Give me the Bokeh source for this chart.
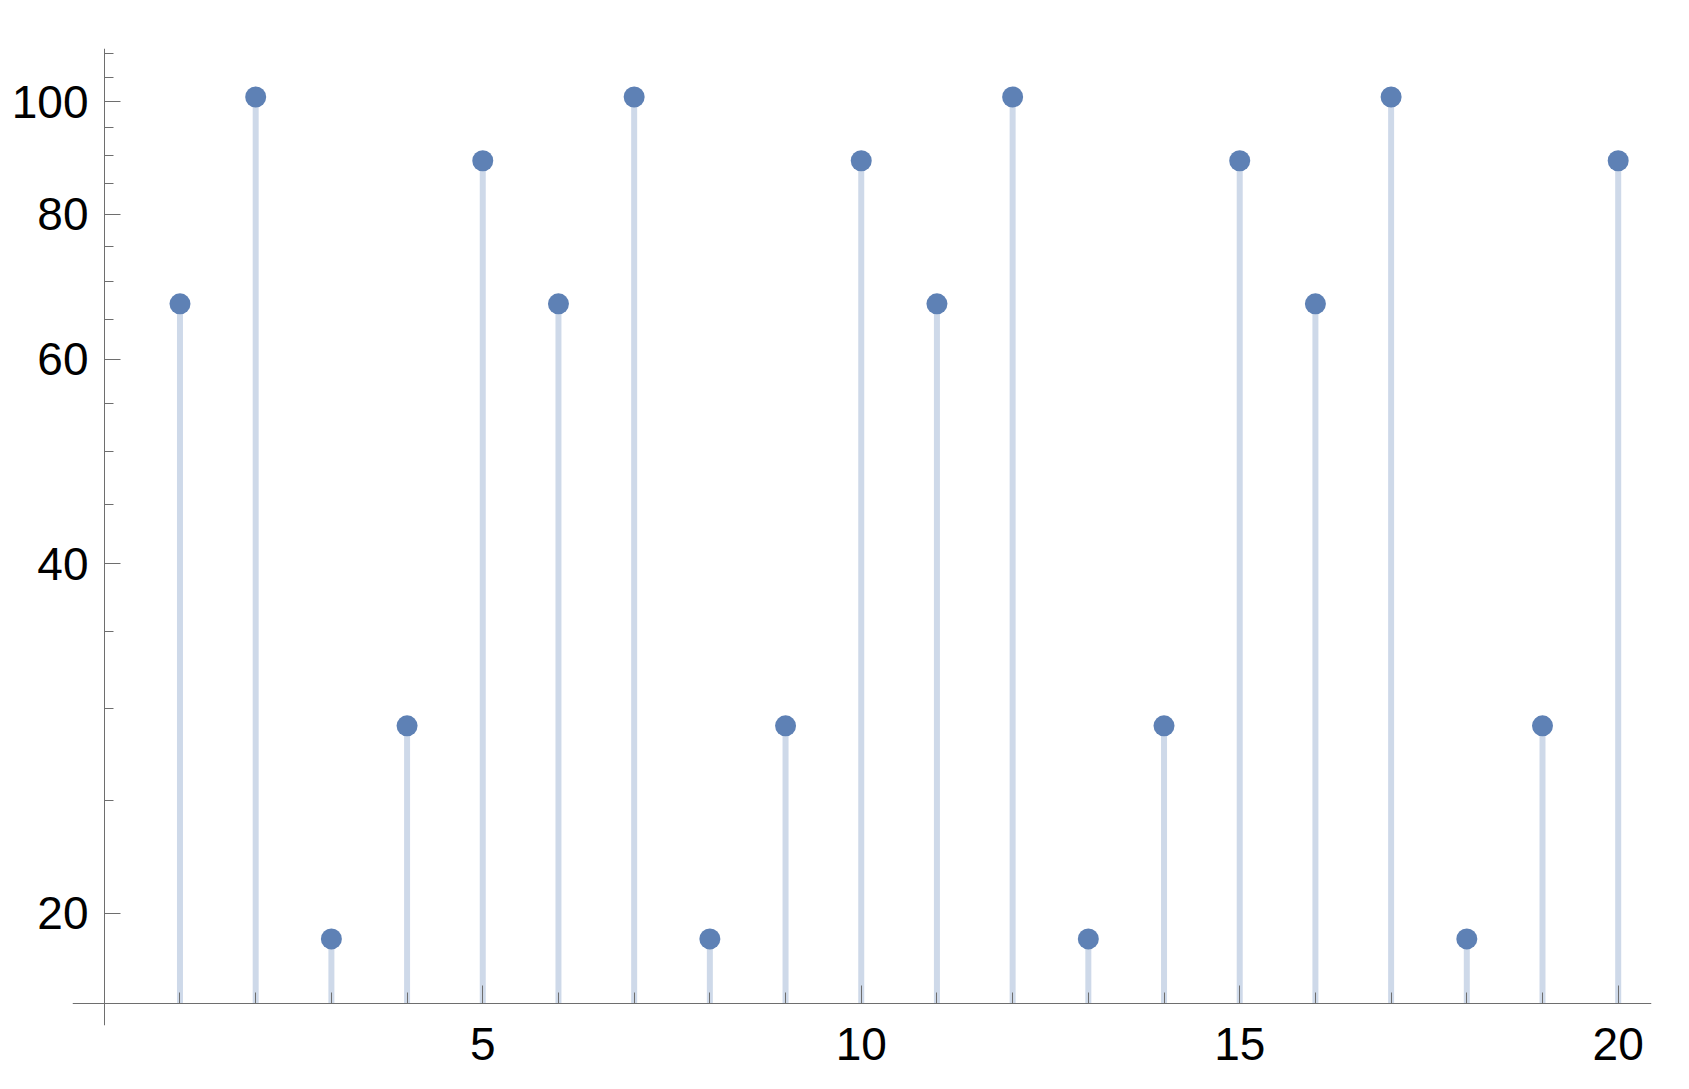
from bokeh.plotting import figure
from bokeh.models import (FixedTicker, PrintfTickFormatter, Range1d, ColumnDataSource,
                          LinearAxis, LogAxis, CustomJSTickFormatter)
from bokeh.embed import file_html
from bokeh.resources import INLINE

# Data
xs = list(range(1, 21))
values = [67, 101, 19, 29, 89,
          67, 101, 19, 29, 89,
          67, 101, 19, 29, 89,
          67, 101, 19, 29, 89]
x_major = [5, 10, 15, 20]
x_minor = list(range(1, 21))
y_major = [20, 40, 60, 80, 100]
y_minor = [25, 30, 35, 45, 50, 55, 65, 70, 75, 85, 90, 95, 105, 110]
BASE = 16.7  # axis origin on the log y scale

COLOR = "#5E81B5"
AXIS_COLOR = "#6E6E6E"
FONT = "Liberation Sans"

p = figure(width=1673, height=1073, y_axis_type="log",
           x_range=Range1d(-0.42, 20.44), y_range=Range1d(16.0, 111.2),
           output_backend="svg", toolbar_location=None,
           min_border_left=72, min_border_right=22,
           min_border_top=48, min_border_bottom=48)
p.outline_line_color = None
p.grid.visible = False
p.background_fill_color = "white"
p.border_fill_color = "white"

src = ColumnDataSource(dict(x=xs, y=values, base=[BASE] * len(xs)))
p.segment(x0="x", y0="base", x1="x", y1="y", source=src,
          line_color=COLOR, line_alpha=0.3, line_width=6, line_cap="butt")
p.scatter(x="x", y="y", source=src, size=21, fill_color=COLOR,
          line_color=None)

blank = CustomJSTickFormatter(code="return ''")

# Axis lines and ticks, crossing at (0, BASE)
xline = LinearAxis(fixed_location=BASE,
                   ticker=FixedTicker(ticks=x_major, minor_ticks=x_minor),
                   formatter=blank,
                   major_tick_in=18, major_tick_out=0,
                   minor_tick_in=11, minor_tick_out=0)
yline = LogAxis(fixed_location=0,
                ticker=FixedTicker(ticks=y_major, minor_ticks=y_minor),
                formatter=blank,
                major_tick_in=16, major_tick_out=0,
                minor_tick_in=9, minor_tick_out=0)
for ax in (xline, yline):
    ax.axis_line_color = AXIS_COLOR
    ax.major_tick_line_color = AXIS_COLOR
    ax.minor_tick_line_color = AXIS_COLOR
    ax.axis_line_width = 1
p.add_layout(xline, "below")
p.add_layout(yline, "left")

# Tick labels on the standard axes
xa = p.xaxis[0]
xa.ticker = FixedTicker(ticks=x_major, minor_ticks=[])
xa.major_label_standoff = 2
ya = p.yaxis[0]
ya.ticker = FixedTicker(ticks=y_major, minor_ticks=[])
ya.formatter = PrintfTickFormatter(format="%d")
ya.major_label_standoff = -16

for ax in (xa, ya):
    ax.axis_line_color = None
    ax.major_tick_line_color = None
    ax.minor_tick_line_color = None
    ax.major_tick_in = 0
    ax.major_tick_out = 0
    ax.minor_tick_in = 0
    ax.minor_tick_out = 0
    ax.major_label_text_font = FONT
    ax.major_label_text_font_size = "46px"
    ax.major_label_text_color = "black"

open("out.html", "w").write(file_html(p, INLINE))
